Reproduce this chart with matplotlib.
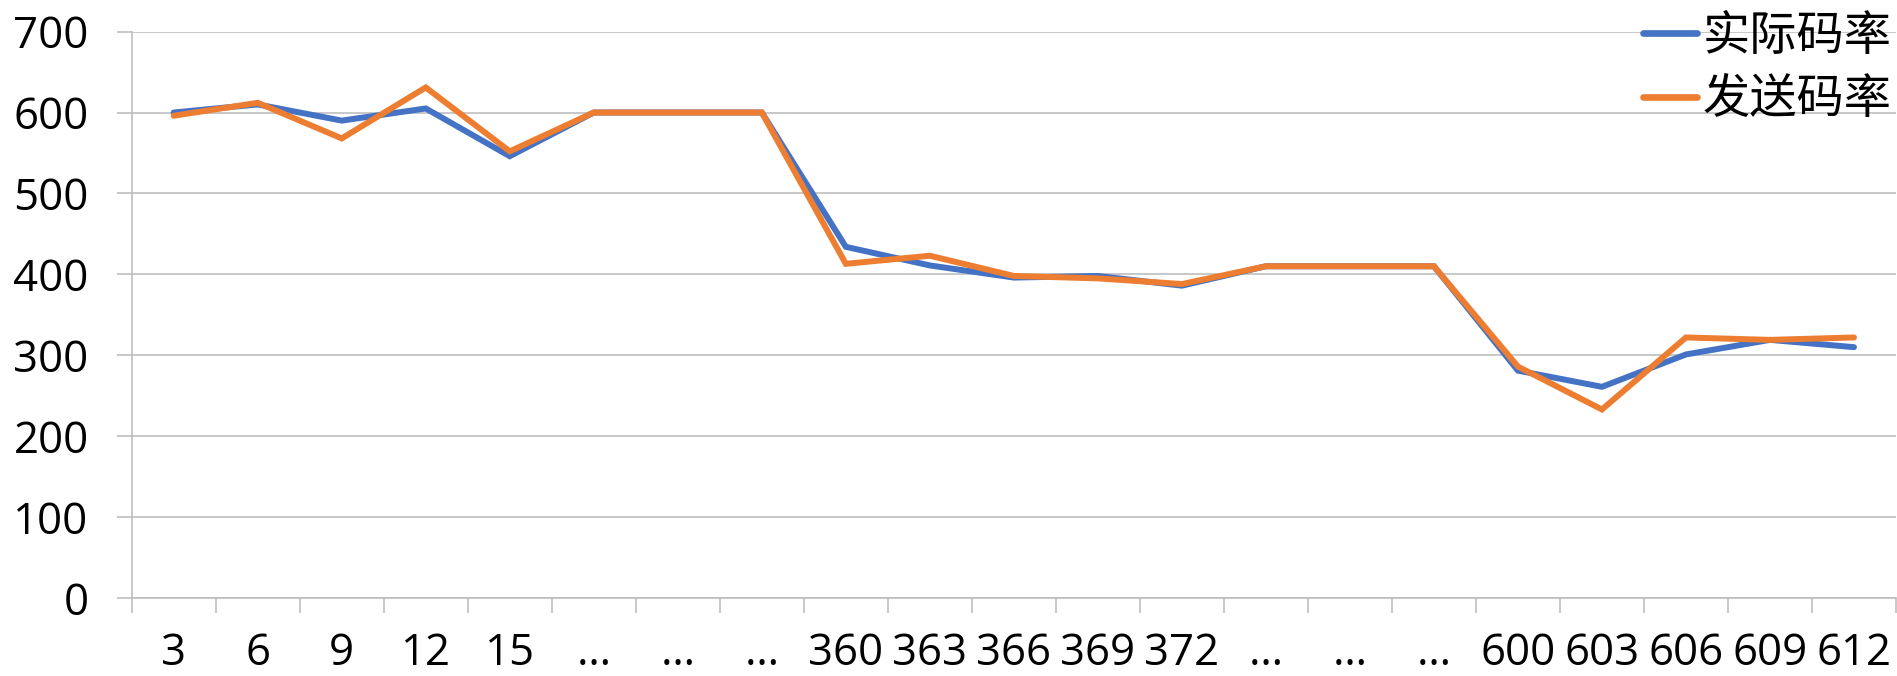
import matplotlib
matplotlib.use("Agg")
import matplotlib.pyplot as plt
import numpy as np

# Sampling points (seconds); "…" marks skipped intervals
categories = ["3", "6", "9", "12", "15", "…", "…", "…",
              "360", "363", "366", "369", "372", "…", "…", "…",
              "600", "603", "606", "609", "612"]

# Bitrate series
actual_rate = [600, 610, 590, 605, 546, 600, 600, 600,
               434, 411, 396, 398, 386, 410, 410, 410,
               281, 261, 301, 319, 310]
send_rate = [596, 612, 568, 631, 552, 600, 600, 600,
             413, 423, 398, 395, 388, 410, 410, 410,
             286, 233, 322, 319, 322]

series_names = ["实际码率", "发送码率"]
y_ticks = [0, 100, 200, 300, 400, 500, 600, 700]

W, H = 1897, 676
fig = plt.figure(figsize=(W / 100, H / 100), dpi=100)
ax = fig.add_axes([131.7 / W, (H - 598) / H, (1896 - 131.7) / W, (598 - 31.6) / H])

grid_c = "#BFBFBF"
x = np.arange(len(categories))
ax.plot(x, actual_rate, color="#4472C4", lw=4.3, solid_joinstyle="miter",
        solid_capstyle="round", label=series_names[0], zorder=3)
ax.plot(x, send_rate, color="#ED7D31", lw=4.3, solid_joinstyle="miter",
        solid_capstyle="round", label=series_names[1], zorder=4)

ax.set_xlim(-0.5, len(categories) - 0.5)
ax.set_ylim(0, 700)

ax.set_yticks(y_ticks)
ax.yaxis.grid(True, color=grid_c, lw=1.2)
ax.set_axisbelow(True)

# category boundaries carry the tick marks; centers carry the labels
ax.set_xticks(np.arange(len(categories) + 1) - 0.5)
ax.set_xticklabels([])
ax.set_xticks(x, minor=True)
ax.set_xticklabels(categories, minor=True)

tick_family = ["Open Sans", "DejaVu Sans"]
for lab in ax.get_yticklabels() + ax.get_xticklabels(minor=True):
    lab.set_fontfamily(tick_family)
    lab.set_fontsize(31.5)
    lab.set_color("black")

ax.tick_params(axis="x", which="major", length=11, width=1.2, color=grid_c)
ax.tick_params(axis="x", which="minor", length=0, pad=24)
ax.tick_params(axis="y", length=11, width=1.2, color=grid_c, pad=20)

for s in ["top", "right"]:
    ax.spines[s].set_visible(False)
for s in ["left", "bottom"]:
    ax.spines[s].set_color(grid_c)
    ax.spines[s].set_linewidth(1.2)

leg = fig.legend(loc="upper right", bbox_to_anchor=(1892 / W, 1 - 12 / H),
                 frameon=False, handlelength=1.15, handletextpad=0.12,
                 labelspacing=0.32, borderaxespad=0, borderpad=0,
                 prop=dict(family=["Noto Sans CJK SC", "DejaVu Sans"], size=34))
for h in leg.get_lines():
    h.set_linewidth(4.8)
    h.set_solid_capstyle("round")

fig.savefig("out.png", dpi=100)
